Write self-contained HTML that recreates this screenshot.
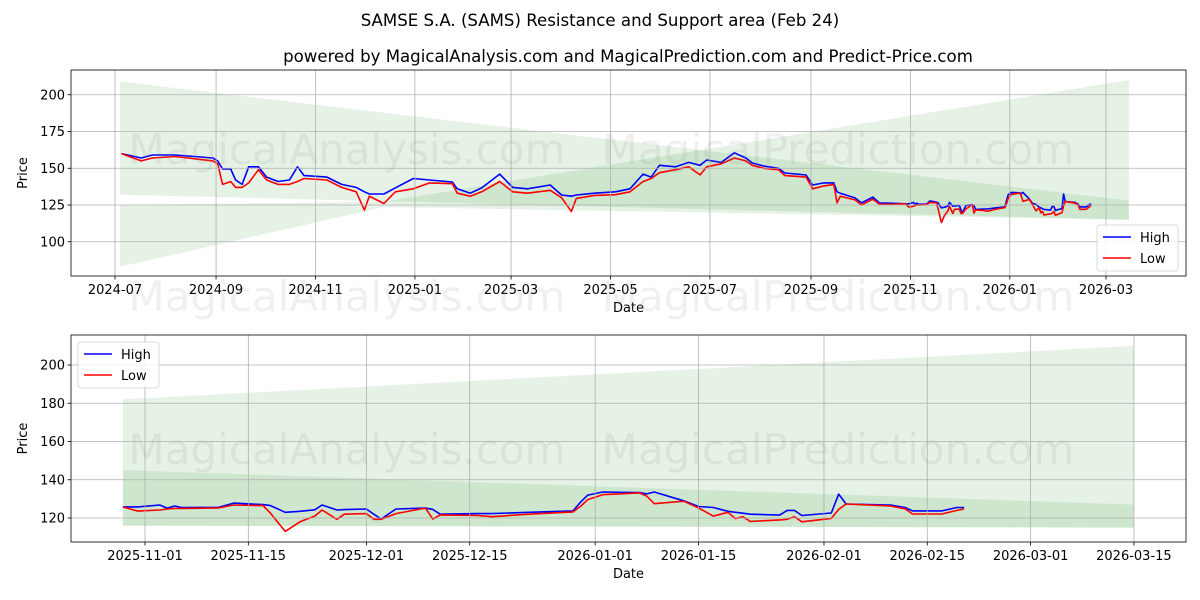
<!DOCTYPE html>
<html><head><meta charset="utf-8"><style>
body{margin:0;background:#fff;}
svg{display:block;font-family:"DejaVu Sans","Liberation Sans",sans-serif;}
</style></head><body>
<svg id="chart" width="1200" height="600" viewBox="0 0 1200 600" xmlns="http://www.w3.org/2000/svg">
<text x="600" y="26" text-anchor="middle" font-size="16.6">SAMSE S.A. (SAMS) Resistance and Support area (Feb 24)</text>
<text x="628" y="62" text-anchor="middle" font-size="16.6">powered by MagicalAnalysis.com and MagicalPrediction.com and Predict-Price.com</text>
<g id="top"></g>
<g id="bot"></g>
<g fill="#888" fill-opacity="0.13" font-size="42" text-anchor="middle">
<text x="347" y="164">MagicalAnalysis.com</text>
<text x="838" y="164">MagicalPrediction.com</text>
<text x="347" y="311">MagicalAnalysis.com</text>
<text x="838" y="311">MagicalPrediction.com</text>
<text x="347" y="464">MagicalAnalysis.com</text>
<text x="838" y="464">MagicalPrediction.com</text>
</g>
</svg>
<script>
// ---- data: top chart (full history) ----
const topDates = ["2024-07-05","2024-07-17","2024-07-24","2024-08-07","2024-08-30","2024-09-02","2024-09-05","2024-09-10","2024-09-13","2024-09-17","2024-09-21","2024-09-27","2024-10-02","2024-10-09","2024-10-16","2024-10-21","2024-10-25","2024-11-08","2024-11-17","2024-11-26","2024-12-01","2024-12-04","2024-12-13","2024-12-20","2024-12-31","2025-01-10","2025-01-24","2025-01-27","2025-02-04","2025-02-11","2025-02-22","2025-03-02","2025-03-11","2025-03-25","2025-04-01","2025-04-07","2025-04-10","2025-04-21","2025-05-04","2025-05-13","2025-05-21","2025-05-26","2025-05-31","2025-06-10","2025-06-18","2025-06-25","2025-06-29","2025-07-08","2025-07-16","2025-07-23","2025-07-27","2025-08-03","2025-08-12","2025-08-16","2025-08-29","2025-09-02","2025-09-09","2025-09-15","2025-09-17","2025-09-19","2025-09-28","2025-10-02","2025-10-09","2025-10-13","2025-10-20"];
const topHigh = [160,157,159,159,157,155,149.5,149.5,142,139,151,151,144,141,142,151,145,144,139,137,134,132.5,132.5,136.6,143,142,140.6,136,133,136.6,146,137,136,138.6,131.8,131,131.8,133,134,136,146,144,152,151,154,152,155.6,154,160.5,157,153.6,151.5,150,146.8,145.4,138.6,140,140,134,133,129.8,126.4,130.4,126.4,126.2];
const topLow = [160,155,157,158,155,153,139,141,137,137,140,149,142,139,139,141,143,142,137,134,121.5,131,126,134,136,140,139.5,133,131,134,141,134,133,135,130,120.5,129.5,131.5,132,134,141,143,147,149,151,145.5,151,153,157,155,152,150,149,145,144,136,138,139,126.5,131,128.5,125,129,125.5,125.5];
// ---- data: recent period (bottom chart, also appended to top chart) ----
const recentDates = ["2025-10-29","2025-10-31","2025-11-03","2025-11-04","2025-11-05","2025-11-06","2025-11-11","2025-11-13","2025-11-17","2025-11-18","2025-11-20","2025-11-22","2025-11-24","2025-11-25","2025-11-27","2025-11-28","2025-12-01","2025-12-02","2025-12-03","2025-12-05","2025-12-09","2025-12-10","2025-12-11","2025-12-16","2025-12-18","2025-12-23","2025-12-29","2025-12-30","2025-12-31","2026-01-02","2026-01-07","2026-01-08","2026-01-09","2026-01-13","2026-01-15","2026-01-17","2026-01-19","2026-01-20","2026-01-21","2026-01-22","2026-01-26","2026-01-27","2026-01-28","2026-01-29","2026-02-02","2026-02-03","2026-02-04","2026-02-10","2026-02-12","2026-02-13","2026-02-17","2026-02-19","2026-02-20"];
const recentHigh = [125.8,125.8,126.8,125.2,126.3,125.5,125.6,127.8,127,126.5,123,123.5,124.3,126.8,124.2,124.4,124.7,122,119.5,124.7,125.2,124.5,122,122.3,122.3,123,123.7,128.2,132,133.6,133.3,132.6,133.6,129,126,125.5,123.5,123,122.5,122,121.5,124,124,121.3,122.6,132.5,127.3,126.8,125.5,123.7,123.7,125.5,125.5];
const recentLow = [125.8,123.6,124.2,124.7,125,125,125.3,126.8,126.5,122.5,113,118,121,124.2,119.3,122,122.3,119.3,119.3,122.3,125.2,119.5,121.6,121.3,120.7,122,123.2,126,129.6,132.2,133.1,131.4,127.5,128.8,125.3,121,123,119.7,120.7,118.2,119,119.3,120.7,118,119.8,124.5,127.3,126.3,124.8,122.1,122.1,124,124.7];
// ---- bands ----
const topBandADates = ["2024-07-04","2026-03-15"];
const topBandATop = [209,128];
const topBandABottom = [132,115];
const topBandBDates = ["2024-07-04","2024-12-13","2026-03-15"];
const topBandBTop = [125,127.2,210];
const topBandBBottom = [83,123.6,115];
const botBandDates = ["2025-10-29","2026-03-15"];
const botBandATop = [145,127];
const botBandABottom = [116,115];
const botBandBTop = [182,210];
const botBandBBottom = [116,115];
// ---- ticks ----
const topYTicks = [100,125,150,175,200];
const topXTicks = ["2024-07","2024-09","2024-11","2025-01","2025-03","2025-05","2025-07","2025-09","2025-11","2026-01","2026-03"];
const botYTicks = [120,140,160,180,200];
const botXTicks = ["2025-11-01","2025-11-15","2025-12-01","2025-12-15","2026-01-01","2026-01-15","2026-02-01","2026-02-15","2026-03-01","2026-03-15"];

const NS="http://www.w3.org/2000/svg";
function day(s){const p=s.split("-").map(Number);return Date.UTC(p[0],p[1]-1,p[2]||1)/86400000;}
function mk(parent,tag,attrs){const e=document.createElementNS(NS,tag);for(const k in attrs)e.setAttribute(k,attrs[k]);parent.appendChild(e);return e;}

function panel(g,cfg){
  const {x0,x1,y0,y1,xS,yS}=cfg;
  const clipId=cfg.id+"-clip";
  const defs=mk(g,"defs",{});
  const cp=mk(defs,"clipPath",{id:clipId});
  mk(cp,"rect",{x:x0,y:y0,width:x1-x0,height:y1-y0});
  const plot=mk(g,"g",{"clip-path":"url(#"+clipId+")"});
  cfg.bands.forEach((b,i)=>{
    let pts=b.dates.map((d,j)=>xS(d)+","+yS(b.top[j]));
    pts=pts.concat(b.dates.map((d,j)=>xS(d)+","+yS(b.bot[j])).reverse());
    const p=mk(plot,"polygon",{points:pts.join(" "),fill:"#008000","fill-opacity":"0.1"});
    
    
  });
  cfg.yticks.forEach(v=>{
    const y=yS(v);
    const l=mk(g,"line",{x1:x0,x2:x1,y1:y,y2:y,stroke:"#b0b0b0","stroke-width":0.8});
    
    
    mk(g,"line",{x1:x0-3.5,x2:x0,y1:y,y2:y,stroke:"#000","stroke-width":0.8});
    const t=mk(g,"text",{x:x0-6,y:y+4.5,"text-anchor":"end","font-size":13});
    t.textContent=v;
    
    
  });
  cfg.xticks.forEach(s=>{
    const x=xS(s);
    const l=mk(g,"line",{x1:x,x2:x,y1:y0,y2:y1,stroke:"#b0b0b0","stroke-width":0.8});
    
    
    mk(g,"line",{x1:x,x2:x,y1:y1,y2:y1+3.5,stroke:"#000","stroke-width":0.8});
    const t=mk(g,"text",{x:x,y:y1+18,"text-anchor":"middle","font-size":13});
    t.textContent=s;
    
    
  });
  cfg.series.forEach(s=>{
    const pts=s.dates.map((d,j)=>xS(d).toFixed(1)+","+yS(s.vals[j]).toFixed(1)).join(" ");
    const pl=mk(plot,"polyline",{points:pts,fill:"none",stroke:s.color,"stroke-width":1.6,"stroke-linejoin":"round"});
    
    
  });
  mk(g,"rect",{x:x0,y:y0,width:x1-x0,height:y1-y0,fill:"none",stroke:"#000","stroke-width":0.8});
  const xl=mk(g,"text",{x:(x0+x1)/2,y:y1+36,"text-anchor":"middle","font-size":13});
  xl.textContent="Date";
  
  
  const yc=(y0+y1)/2;
  const yl=mk(g,"text",{x:27,y:yc,"text-anchor":"middle","font-size":13,transform:"rotate(-90 27 "+yc+")"});
  yl.textContent="Price";
  
  
  const L=cfg.legend;
  const lg=mk(g,"g",{});
  
  
  mk(lg,"rect",{x:L.x,y:L.y,width:81,height:46,rx:3,fill:"#fff","fill-opacity":0.85,stroke:"#d0d0d0","stroke-width":0.8});
  [["High","#0000ff"],["Low","#ff0000"]].forEach((e,i)=>{
    const ey=L.y+12+i*21;
    const item=mk(lg,"g",{});
    
    
    mk(item,"line",{x1:L.x+6,x2:L.x+34,y1:ey,y2:ey,stroke:e[1],"stroke-width":1.5});
    const t=mk(item,"text",{x:L.x+43,y:ey+5,"font-size":13});
    t.textContent=e[0];
  });
}

const allDates=topDates.concat(recentDates), allHigh=topHigh.concat(recentHigh), allLow=topLow.concat(recentLow);
const tOrigin=day("2024-07-01");
panel(document.getElementById("top"),{
  id:"top",x0:71,x1:1186,y0:70,y1:276,
  xS:d=>115+(day(d)-tOrigin)*1.6299,
  yS:v=>205-(v-125)*1.47,
  yticks:topYTicks,xticks:topXTicks,
  bands:[{name:"resistance-top",dates:topBandADates,top:topBandATop,bot:topBandABottom},
         {name:"support-top",dates:topBandBDates,top:topBandBTop,bot:topBandBBottom}],
  series:[{name:"high-top",dates:allDates,vals:allHigh,color:"#0000ff"},
          {name:"low-top",dates:allDates,vals:allLow,color:"#ff0000"}],
  legend:{x:1097,y:225}
});
const bOrigin=day("2025-11-01");
panel(document.getElementById("bot"),{
  id:"bot",x0:71,x1:1186,y0:335,y1:542,
  xS:d=>145+(day(d)-bOrigin)*7.38,
  yS:v=>518-(v-120)*1.9125,
  yticks:botYTicks,xticks:botXTicks,
  bands:[{name:"resistance-bottom",dates:botBandDates,top:botBandATop,bot:botBandABottom},
         {name:"support-bottom",dates:botBandDates,top:botBandBTop,bot:botBandBBottom}],
  series:[{name:"high-bottom",dates:recentDates,vals:recentHigh,color:"#0000ff"},
          {name:"low-bottom",dates:recentDates,vals:recentLow,color:"#ff0000"}],
  legend:{x:78,y:342}
});
</script>
</body></html>
